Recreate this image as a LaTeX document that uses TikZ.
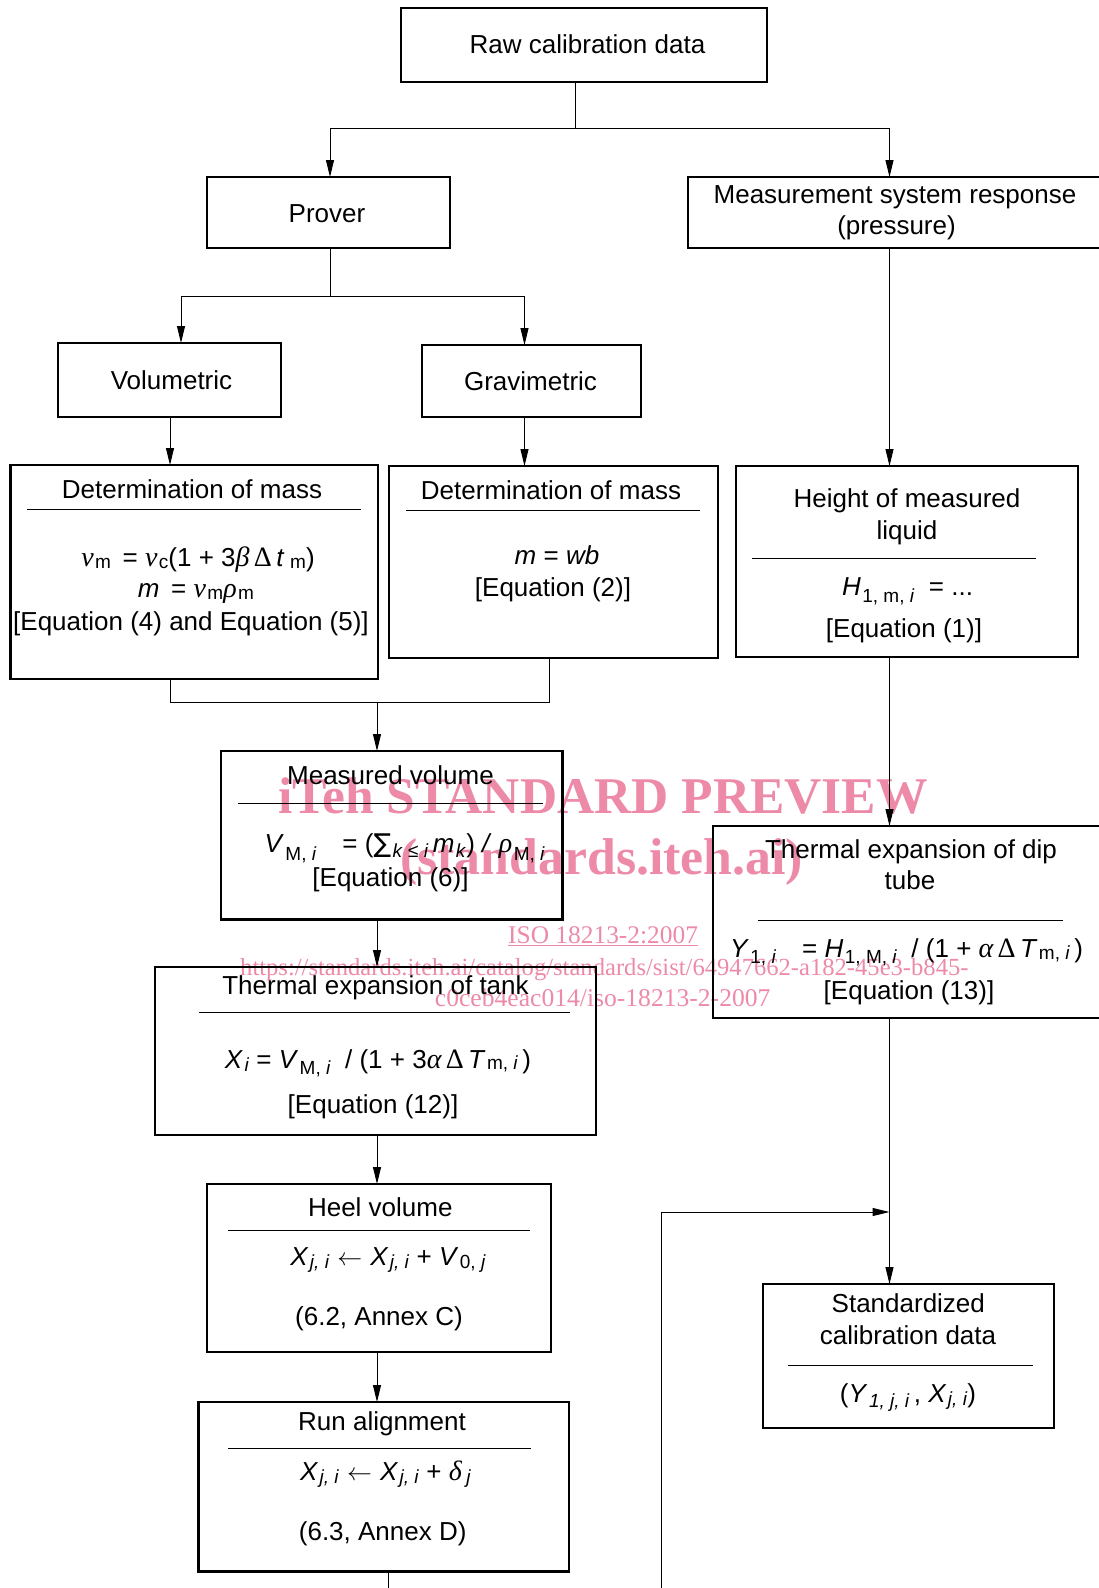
\documentclass[tikz,border=0pt]{standalone}
\usepackage{fontspec}
\setmainfont{Liberation Sans}
\newfontfamily\grkfont{Liberation Serif}
\newfontfamily\wmfont{Liberation Serif}
\newfontfamily\symfont{DejaVu Sans}
\usetikzlibrary{arrows.meta}
\definecolor{wmpink}{RGB}{236,138,168}
\newcommand{\lo}[2][5pt]{\hspace{1.5pt}\raisebox{-#1}{\fontsize{19}{19}\selectfont #2}}
\newcommand{\gi}[1]{{\grkfont\itshape\fontsize{28}{31}\selectfont #1}}
\newcommand{\gu}[1]{{\grkfont\fontsize{28}{31}\selectfont #1}}
\newcommand{\larr}{\hspace{8pt}$\leftarrow$\hspace{8pt}}
\newcommand{\bigsum}{{\symfont ∑}}
\begin{document}
\begin{tikzpicture}[x=1pt,y=-1pt,
  box/.style={draw, line width=2.2pt, inner sep=0pt, outer sep=0pt},
  conn/.style={line width=1pt},
  arr/.style={line width=1pt, -{Triangle[length=17pt,width=8pt]}},
  divider/.style={line width=1pt},
  txt/.style={anchor=base, inner sep=0pt, font=\fontsize{26}{31}\selectfont},
  wm/.style={anchor=base west, inner sep=0pt, text=wmpink}]
\useasboundingbox (0,0) rectangle (1098,1588);

% watermark (beneath)
\node[wm, font=\wmfont\bfseries\fontsize{51.5}{51.5}\selectfont] (wm1) at (278,813) {iTeh STANDARD PREVIEW};
\node[wm, font=\wmfont\bfseries\fontsize{51.8}{51.8}\selectfont] (wm2) at (400,874) {(standards.iteh.ai)};
\node[wm, font=\wmfont\fontsize{25.4}{25.4}\selectfont] (wm3) at (508,943) {\underline{ISO 18213-2:2007}};
\node[wm, font=\wmfont\fontsize{24.6}{24.6}\selectfont] (wm4) at (240,975) {https://standards.iteh.ai/catalog/standards/sist/64947662-a182-45e3-b845-};
\node[wm, font=\wmfont\fontsize{25.6}{25.6}\selectfont] (wm5) at (434.7,1006) {c0ceb4eac014/iso-18213-2-2007};

% boxes
\node[box, minimum width=366pt, minimum height=74pt] (raw) at (584,45) {};
\node[box, minimum width=243pt, minimum height=71pt] (prover) at (328.5,212.5) {};
\node[box, minimum width=422pt, minimum height=71pt] (meas) at (899,212.5) {};
\node[box, minimum width=223pt, minimum height=74pt] (vol) at (169.5,380) {};
\node[box, minimum width=219pt, minimum height=72pt] (grav) at (531.5,381) {};
\node[box, minimum width=367.5pt, minimum height=214pt] (detL) at (194.25,572) {};
\node[box, minimum width=329pt, minimum height=192pt] (detM) at (553.5,562) {};
\node[box, minimum width=342pt, minimum height=191pt] (height) at (907,561.5) {};
\node[box, minimum width=341.5pt, minimum height=168.5pt] (measv) at (391.75,835.25) {};
\node[box, minimum width=397pt, minimum height=192pt] (dip) at (911.5,922) {};
\node[box, minimum width=441pt, minimum height=168pt] (tank) at (375.5,1051) {};
\node[box, minimum width=344pt, minimum height=168pt] (heel) at (379,1268) {};
\node[box, minimum width=370.5pt, minimum height=169.5pt] (run) at (383.75,1486.75) {};
\node[box, minimum width=291pt, minimum height=144pt] (std) at (908.5,1356) {};

% dividers
\draw[divider] (27,509) -- (361,509);
\draw[divider] (406,510) -- (700,510);
\draw[divider] (752,558) -- (1036,558);
\draw[divider] (238,803) -- (543,803);
\draw[divider] (758,920) -- (1063,920);
\draw[divider] (199,1012) -- (570,1012);
\draw[divider] (228,1230) -- (530,1230);
\draw[divider] (228,1448) -- (530.7,1448);
\draw[divider] (787.7,1365) -- (1033,1365);

% texts
\node[txt] (traw) at (587.5,53.3) {Raw calibration data};
\node[txt] (tprover) at (327,222.5) {Prover};
\node[txt] (tmeas1) at (895,203.5) {Measurement system response};
\node[txt] (tmeas2) at (896.5,234.5) {(pressure)};
\node[txt] (tvol) at (171.5,389) {Volumetric};
\node[txt] (tgrav) at (530.5,390) {Gravimetric};

\node[txt] (tdetL) at (192,498) {Determination of mass};
\node[txt] (tdetL1) at (198,566) {\gi{ν}\lo[2pt]{m}\ \,= \gi{ν}\lo[2pt]{c}(1 + 3\gi{β}\,\gu{Δ}\,\textit{t}\,\lo[2pt]{m})};
\node[txt] (tdetL2) at (196,597) {\textit{m} \,= \gi{ν}\lo[2pt]{m}\gi{ρ}\lo[2pt]{m}};
\node[txt] (tdetL3) at (191,630) {[Equation (4) and Equation (5)]};

\node[txt] (tdetM) at (551,499) {Determination of mass};
\node[txt] (tdetM1) at (557,564) {\textit{m} = \textit{wb}};
\node[txt] (tdetM2) at (553,596.5) {[Equation (2)]};

\node[txt] (theight1) at (907,507) {Height of measured};
\node[txt] (theight2) at (907,539) {liquid};
\node[txt] (theight3) at (907.5,595) {\textit{H}\lo[7pt]{1, m, \textit{i}}\ \ = ...};
\node[txt] (theight4) at (904,637) {[Equation (1)]};

\node[txt] (tmv1) at (390.5,784.5) {Measured volume};
\node[txt] (tmv2) at (404.7,852) {\textit{V}\lo[8pt]{M, \textit{i}}\quad= (\bigsum\lo[5pt]{\textit{k} ≤ \textit{i}}\,\textit{m}\lo[5pt]{\textit{k}}) \textit{/} \gi{ρ}\lo[8pt]{M, \textit{i}}};
\node[txt] (tmv3) at (390.5,886.7) {[Equation (6)]};

\node[txt] (tdip1) at (911,858.7) {Thermal expansion of dip};
\node[txt] (tdip2) at (910,889) {tube};
\node[txt] (tdip3) at (906.5,957) {\textit{Y}\lo[6pt]{1, \textit{i}}\quad= \textit{H}\lo[6pt]{1, M, \textit{i}}\ \ / (1 + \gi{α}\,\gu{Δ}\,\textit{T}\lo[2pt]{m, \textit{i}}\,)};
\node[txt] (tdip4) at (909,999.7) {[Equation (13)]};

\node[txt] (ttank1) at (375.5,994) {Thermal expansion of tank};
\node[txt] (ttank2) at (378,1068.7) {\textit{X}\lo[3pt]{\textit{i}} = \textit{V}\lo[6pt]{M, \textit{i}}\ \ / (1 + 3\gi{α}\,\gu{Δ}\,\textit{T}\lo[1pt]{m, \textit{i}}\,)};
\node[txt] (ttank3) at (373,1113) {[Equation (12)]};

\node[txt] (theel1) at (380.3,1216) {Heel volume};
\node[txt] (theel2) at (388,1265) {\textit{X}\lo[3pt]{\textit{j, i}}\larr\textit{X}\lo[3pt]{\textit{j, i}} + \textit{V}\lo[3pt]{0, \textit{j}}};
\node[txt] (theel3) at (379,1325) {(6.2, Annex C)};

\node[txt] (trun1) at (382,1430) {Run alignment};
\node[txt] (trun2) at (385.5,1480) {\textit{X}\lo[3pt]{\textit{j, i}}\larr\textit{X}\lo[3pt]{\textit{j, i}} + \gi{δ}\hspace{3pt}\lo[3pt]{\textit{j}}};
\node[txt] (trun3) at (382.7,1540) {(6.3, Annex D)};

\node[txt] (tstd1) at (908.3,1312.7) {Standardized};
\node[txt] (tstd2) at (908,1344) {calibration data};
\node[txt] (tstd3) at (908,1402) {(\textit{Y}\lo[5pt]{\textit{1, j, i}}\,, \textit{X}\lo[3pt]{\textit{j, i}})};

% column coordinates
\coordinate (cP) at (330,0);
\coordinate (cM) at (889.5,0);
\coordinate (cV) at (181,0);
\coordinate (cL) at (170,0);
\coordinate (cG) at (524.5,0);
\coordinate (cD) at (549,0);
\coordinate (cC) at (377,0);
\coordinate (j1) at (575,128);
\coordinate (j2) at (330,296);
\coordinate (j3) at (377,702);
\coordinate (e1) at (388,1588);
\coordinate (f0) at (661,1588);
\coordinate (f1) at (889.5,1212);

% connectors
\draw[conn] (raw.south -| j1) -- (j1);
\draw[arr] (j1) -| (prover.north -| cP);
\draw[arr] (j1) -| (meas.north -| cM);
\draw[conn] (prover.south -| j2) -- (j2);
\draw[arr] (j2) -| (vol.north -| cV);
\draw[arr] (j2) -| (grav.north -| cG);
\draw[arr] (vol.south -| cL) -- (detL.north -| cL);
\draw[arr] (grav.south -| cG) -- (detM.north -| cG);
\draw[arr] (meas.south -| cM) -- (height.north -| cM);
\draw[conn] (detL.south -| cL) |- (j3);
\draw[conn] (detM.south -| cD) |- (j3);
\draw[arr] (j3) -- (measv.north -| j3);
\draw[arr] (measv.south -| cC) -- (tank.north -| cC);
\draw[arr] (tank.south -| cC) -- (heel.north -| cC);
\draw[arr] (heel.south -| cC) -- (run.north -| cC);
\draw[conn] (run.south -| e1) -- (e1);
\draw[arr] (height.south -| cM) -- (dip.north -| cM);
\draw[arr] (dip.south -| cM) -- (std.north -| cM);
\draw[arr] (f0) |- (f1);
\end{tikzpicture}
\end{document}
